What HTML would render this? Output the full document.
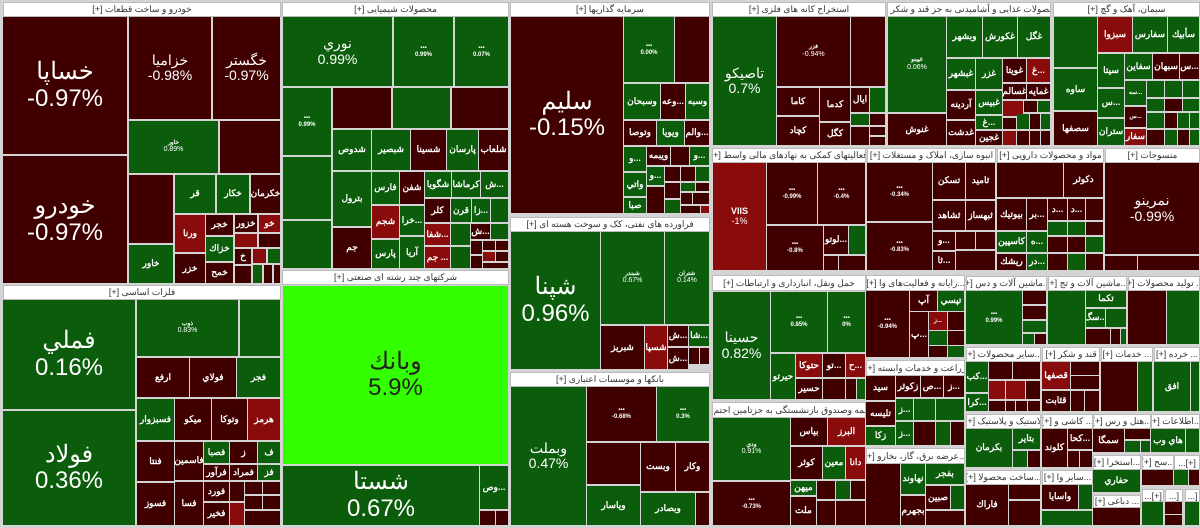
<!DOCTYPE html>
<html><head><meta charset="utf-8">
<style>
html,body{margin:0;padding:0;background:#d4d4d4;width:1200px;height:528px;overflow:hidden;position:relative;font-family:"Liberation Sans","Noto Sans CJK SC",sans-serif}
.c{position:absolute;display:flex;align-items:center;justify-content:center;text-align:center;color:#fff;overflow:hidden;line-height:1.1;box-sizing:border-box;white-space:nowrap}
.h{position:absolute;background:#fff;border:1px solid #bbb;box-sizing:border-box;color:#333;font-size:9px;display:flex;align-items:center;justify-content:center;white-space:nowrap;overflow:hidden;direction:rtl}
</style></head><body>
<script>
const C={D:'#410000',G:'#0b5c0b',R:'#8a0b0b',L:'#33ff00'};
const FS=[6,9,14,24];
const H=[
[3,2,281,17,'خودرو و ساخت قطعات [+]'],[3,285,281,300,'فلزات اساسی [+]'],[282,2,509,17,'محصولات شیمیایی [+]'],[282,270,509,285,'شرکتهای چند رشته ای صنعتی [+]'],
[510,2,710,17,'سرمایه گذاریها [+]'],[510,217,710,232,'فراورده های نفتی، کک و سوخت هسته ای [+]'],[510,372,710,387,'بانکها و موسسات اعتباری [+]'],
[712,2,886,17,'استخراج کانه های فلزی [+]'],[887,2,1051,17,'محصولات غذایی و آشامیدنی به جز قند و شکر [+]'],[1053,2,1200,17,'سیمان، آهک و گچ [+]'],
[712,148,866,163,'فعالیتهای کمکی به نهادهای مالی واسط [+]'],[867,148,996,163,'انبوه سازی، املاک و مستغلات [+]'],[997,148,1104,163,'مواد و محصولات دارویی [+]'],[1105,148,1200,163,'منسوجات [+]'],
[712,275,866,291,'حمل ونقل، انبارداری و ارتباطات [+]'],[712,402,866,418,'...بیمه وصندوق بازنشستگی به جزتامین اجتم [+]'],[866,275,965,291,'...رایانه و فعالیت‌های وا [+]'],[866,360,965,376,'زراعت و خدمات وابسته [+]'],[866,448,965,464,'...عرضه برق، گاز، بخارو [+]'],
[966,276,1047,291,'...ماشین آلات و دس [+]'],[1048,276,1127,291,'...ماشین آلات و تج [+]'],[1128,276,1200,291,'... تولید محصولات [+]'],
[966,347,1041,362,'...سایر محصولات [+]'],[1042,347,1100,362,'قند و شکر [+]'],[1101,347,1153,362,'... خدمات [+]'],[1154,347,1200,362,'... خرده [+]'],
[966,414,1041,429,'لاستیک و پلاستیک [+]'],[966,470,1041,485,'...ساخت محصولا [+]'],[1042,414,1093,429,'... کاشی و [+]'],[1042,470,1093,485,'...سایر وا [+]'],
[1093,414,1151,429,'...هتل و رس [+]'],[1151,414,1200,429,'...اطلاعات [+]'],[1093,455,1141,470,'...استخرا [+]'],[1093,495,1141,508,'... دباغی [+]'],
[1142,455,1174,470,'...سح [+]'],[1174,455,1200,470,'[+]...'],[1142,489,1164,502,'[+]...'],[1165,489,1183,502,'[...'],[1185,489,1200,502,'[...']
];
const K=[
[3,17,128,155,'D','خساپا',3,'-0.97%'],[3,156,128,284,'D','خودرو',3,'-0.97%'],[129,17,212,120,'D','خزامیا',2,'-0.98%'],[213,17,281,120,'D','خگستر',2,'-0.97%'],
[129,121,219,174,'G','خاور',0,'0.89%'],[220,121,281,174,'D','',0],[129,175,174,244,'D','',0],[175,175,216,214,'G','قر',1],[217,175,250,214,'G','خكار',1],[251,175,281,214,'D','خكرمان',1],
[129,245,174,284,'G','خاور',1],[175,215,206,253,'R','ورنا',1],[206,215,234,236,'D','خجر',1],[235,215,258,233,'D','خزور',1],[259,215,281,233,'R','خو',1],
[235,234,258,248,'R','',0],[259,234,281,248,'D','',0],[206,237,234,262,'G','خزاك',1],[235,249,252,265,'D','خ',1],[253,249,267,264,'R','',0],[268,249,281,264,'G','',0],
[175,254,206,284,'D','خزر',1],[206,263,234,284,'D','خمح',1],[235,266,252,284,'D','',0],[253,265,263,284,'G','',0],[264,265,273,284,'D','',0],[274,265,281,284,'D','',0],
[3,300,136,410,'G','فملي',3,'0.16%'],[3,411,136,526,'G','فولاد',3,'0.36%'],[137,300,239,357,'G','ذوب',0,'0.83%'],[240,300,281,357,'G','',0],
[137,358,190,398,'D','ارفع',1],[190,358,237,398,'D','فولاي',1],[237,358,281,398,'G','فجر',1],
[137,399,175,441,'G','فسبزوار',1],[175,399,212,441,'D','میکو',1],[212,399,248,441,'D','وتوكا',1],[248,399,281,441,'R','هرمز',1],
[137,442,175,482,'D','فنتا',1],[137,483,175,526,'D','فسوز',1],[175,442,204,481,'D','فاسمین',1],[175,482,204,526,'D','فسا',1],
[204,442,230,464,'G','فصبا',1],[230,442,258,464,'D','ز',1],[258,442,281,464,'G','ف',1],[204,465,230,481,'D','فرآور',1],[230,465,258,481,'D','فمراد',1],[258,465,281,481,'G','فز',1],
[204,482,230,502,'D','فورد',1],[204,503,230,526,'D','فخیر',1],[230,482,245,502,'D','',0],[245,482,263,495,'D','',0],[263,482,281,495,'D','',0],[230,503,245,526,'R','',0],[245,496,263,510,'D','',0],[263,496,281,510,'D','',0],[245,511,281,526,'D','',0],
[283,17,393,87,'G','نوري',2,'0.99%'],[394,17,454,87,'G','',0,'0.99%'],[455,17,509,87,'G','',0,'0.07%'],
[283,88,332,156,'G','',0,'0.99%'],[333,88,392,129,'D','',0],[393,88,451,129,'G','',0],[452,88,509,129,'D','',0],
[283,157,332,220,'G','',0],[283,221,332,269,'G','',0],
[333,130,372,171,'G','شدوص',1],[372,130,411,171,'G','شبصير',1],[411,130,447,171,'D','شسينا',1],[447,130,479,171,'G','پارسان',1],[479,130,509,171,'D','شلعاب',1],
[333,172,372,227,'G','بترول',1],[333,228,372,269,'D','جم',1],
[372,172,400,205,'G','فارس',1],[400,172,425,205,'D','شفن',1],[425,172,452,198,'G','شگويا',1],[452,172,481,198,'G','كرماشا',1],[481,172,509,198,'G','ش...',1],
[372,206,400,239,'R','شجم',1],[400,206,425,236,'G','خرا...',1],[372,240,400,269,'G','پارس',1],[400,237,425,269,'G','آريا',1],
[425,199,451,223,'D','كلر',1],[451,199,472,223,'G','قرن',1],[472,199,491,223,'G','زا...',1],[491,199,509,223,'G','',0],
[425,224,451,246,'R','شفا...',1],[425,247,451,269,'R','جم ...',1],
[451,224,471,246,'G','',0],[471,224,491,240,'D','ش...',1],[491,224,509,240,'G','',0],[451,247,471,269,'G','',0],[471,241,483,255,'D','',0],[483,241,496,251,'D','',0],[496,241,509,251,'D','',0],[471,256,483,269,'D','',0],[483,252,496,262,'R','',0],[496,252,509,262,'D','',0],[483,263,509,269,'D','',0],
[283,286,509,465,'L','وبانك',3,'5.9%'],[283,466,480,526,'G','شستا',3,'0.67%'],[480,466,509,510,'G','وص...',1],[480,511,496,526,'D','',0],[496,511,509,526,'D','',0],
[511,17,624,214,'D','سليم',3,'-0.15%'],[624,17,675,83,'G','',0,'0.00%'],[675,17,710,83,'D','',0],
[624,84,661,120,'G','وسبحان',1],[661,84,686,120,'D','وعه...',1],[686,84,710,120,'G','وسبه',1],
[624,121,657,146,'D','وتوصا',1],[657,121,685,146,'G','ويويا',1],[685,121,710,146,'D','والم...',1],
[624,147,647,172,'G','و...',1],[647,147,671,166,'D','ويبمه',1],[671,147,690,166,'D','',0],[690,147,710,166,'G','و...',1],
[624,173,647,197,'G','واتي',1],[624,198,647,214,'G','صبا',1],
[647,167,665,186,'G','و...',1],[665,167,681,182,'D','',0],[681,167,696,182,'D','',0],[696,167,710,182,'G','',0],[647,187,665,214,'D','',0],[665,183,681,199,'D','',0],[681,183,696,192,'G','',0],[696,183,710,192,'D','',0],[665,200,681,214,'G','',0],[681,193,693,205,'D','',0],[693,193,710,205,'D','',0],[681,206,701,214,'D','',0],[701,206,710,214,'R','',0],
[511,232,601,370,'G','شپنا',3,'0.96%'],[601,232,665,325,'G','شبندر',0,'0.67%'],[665,232,710,325,'G','شتران',0,'0.14%'],
[601,326,645,370,'D','شبريز',1],[645,326,668,370,'R','شسپا',1],[668,326,689,347,'D','ش...',1],[689,326,710,347,'G','شا...',1],[668,348,689,370,'D','ش...',1],[689,348,700,365,'D','',0],[700,348,710,365,'D','',0],
[511,387,587,526,'G','وبملت',2,'0.47%'],[587,387,657,442,'D','',0,'-0.68%'],[657,387,710,442,'G','',0,'0.3%'],
[587,443,641,485,'D','',0],[641,443,676,492,'D','وبست',1],[676,443,710,492,'D','وكار',1],[587,486,641,526,'G','وياسار',1],[641,493,696,526,'G','وبصادر',1],[696,493,710,526,'D','',0],
[713,17,777,146,'G','تاصيكو',2,'0.7%'],[777,17,851,87,'D','فزر',0,'-0.94%'],[851,17,886,87,'D','',0],
[777,88,820,116,'D','كاما',1],[820,88,851,122,'D','كدما',1],[777,117,820,146,'D','كچاد',1],[820,123,851,146,'D','كگل',1],
[851,88,870,113,'D','ايال',1],[870,88,886,113,'G','',0],[851,114,870,126,'G','',0],[870,114,886,126,'D','',0],[851,127,870,146,'D','',0],[870,127,886,136,'D','',0],[870,137,886,146,'D','',0],
[888,17,947,113,'G','غپينو',0,'0.06%'],[888,114,947,146,'D','غنوش',1],
[947,17,983,58,'G','وبشهر',1],[983,17,1018,58,'G','غكورش',1],[1018,17,1051,58,'G','غگل',1],
[947,59,976,90,'G','غبشهر',1],[976,59,1003,90,'G','غزر',1],[1003,59,1027,83,'D','غويتا',1],[1027,59,1051,83,'R','غ...',1],
[947,91,976,120,'D','آردينه',1],[947,121,976,146,'D','غدشت',1],[976,91,1003,115,'G','غبيس',1],[976,116,1003,130,'G','غ...',1],[976,131,1003,146,'D','غجين',1],
[1003,84,1027,100,'D','غسالم',1],[1027,84,1051,100,'D','غمايه',1],[1003,101,1024,117,'R','',0],[1024,101,1038,113,'D','',0],[1038,101,1051,113,'G','',0],
[1003,118,1017,130,'D','',0],[1017,114,1030,130,'G','',0],[1030,114,1041,130,'D','',0],[1041,114,1051,130,'G','',0],[1003,131,1017,146,'R','',0],[1017,131,1030,146,'D','',0],[1030,131,1041,146,'D','',0],[1041,131,1051,146,'D','',0],
[1054,17,1098,68,'G','',0],[1054,69,1098,111,'G','ساوه',1],[1054,112,1098,146,'D','سصفها',1],
[1098,17,1133,53,'R','سبزوا',1],[1133,17,1168,53,'G','سفارس',1],[1168,17,1200,53,'G','سأبيك',1],
[1098,54,1125,88,'G','سيتا',1],[1098,89,1125,118,'G','س...',1],[1098,119,1125,146,'G','ستران',1],
[1125,54,1153,80,'G','سفاين',1],[1153,54,1180,80,'D','سبهان',1],[1180,54,1200,80,'D','س...',1],
[1125,81,1147,106,'G','سه...',0],[1125,107,1147,128,'D','س...',0],[1125,129,1147,146,'R','سفار',1],
[1147,81,1165,98,'G','',0],[1165,81,1183,98,'G','',0],[1183,81,1200,98,'G','',0],[1147,99,1165,112,'G','',0],[1165,99,1183,112,'D','',0],[1183,99,1200,112,'G','',0],
[1147,113,1165,129,'G','',0],[1165,113,1178,129,'D','',0],[1178,113,1190,129,'G','',0],[1190,113,1200,129,'G','',0],[1147,130,1165,146,'D','',0],[1165,130,1178,146,'G','',0],[1178,130,1190,146,'D','',0],[1190,130,1200,146,'G','',0],
[713,163,767,271,'R','VIIS',1,'-1%'],[767,163,818,225,'D','',0,'-0.99%'],[818,163,866,225,'D','',0,'-0.4%'],[767,226,824,271,'D','',0,'-0.8%'],[824,226,849,255,'D','لوتو...',1],[849,226,866,255,'G','',0],[824,256,839,271,'D','',0],[839,256,866,271,'D','',0],
[867,163,933,222,'D','',0,'-0.34%'],[867,223,933,271,'D','',0,'-0.83%'],[933,163,966,200,'D','تسكن',1],[966,163,996,200,'D','ثاميد',1],[933,201,966,231,'D','ثشاهد',1],[966,201,996,231,'D','ثبهساز',1],[933,232,956,251,'D','و...',1],[933,252,956,271,'D','ثا...',1],[956,232,976,250,'D','',0],[976,232,996,250,'D','',0],[956,251,996,271,'D','',0],
[997,163,1064,198,'D','',0],[1064,163,1104,198,'D','دكوثر',1],[997,199,1027,231,'D','بيوتيك',1],[1027,199,1048,231,'D','بر...',1],[1048,199,1068,221,'D','د...',1],[1068,199,1086,221,'D','د...',1],[1086,199,1104,221,'D','',0],
[997,232,1027,253,'G','كاسپين',1],[997,254,1027,271,'D','ريشك',1],[1027,232,1048,253,'G','ه...',1],[1027,254,1048,271,'G','در...',1],
[1048,222,1068,236,'G','',0],[1068,222,1086,236,'G','',0],[1086,222,1104,236,'D','',0],[1048,237,1068,253,'D','',0],[1068,237,1086,253,'D','',0],[1086,237,1104,253,'G','',0],[1048,254,1068,271,'D','',0],[1068,254,1086,271,'G','',0],[1086,254,1104,271,'D','',0],
[1105,163,1200,255,'D','نمرينو',2,'-0.99%'],[1105,256,1138,271,'D','',0],[1138,256,1200,271,'D','',0],
[713,292,771,400,'G','حسينا',2,'0.82%'],[771,292,828,353,'G','',0,'0.85%'],[828,292,866,353,'G','',0,'0%'],[771,354,796,400,'G','حيرتو',1],[796,354,823,378,'R','حتوكا',1],[823,354,846,378,'D','تو...',1],[846,354,866,378,'R','ح...',1],[796,379,823,400,'D','حسير',1],[823,379,846,400,'D','',0],[846,379,857,400,'D','',0],[857,379,866,400,'G','',0],
[713,418,791,481,'G','ودي',0,'0.91%'],[713,482,791,526,'D','',0,'-0.73%'],[791,418,828,446,'D','بياس',1],[828,418,866,446,'R','البرز',1],[791,447,823,480,'D','كوثر',1],[823,447,846,480,'G','معين',1],[846,447,866,480,'R','دانا',1],
[791,481,817,496,'G','ميهن',1],[791,497,817,526,'D','ملت',1],[817,481,836,500,'D','',0],[836,481,851,500,'G','',0],[851,481,866,500,'D','',0],[817,501,836,526,'D','',0],[836,501,866,526,'D','',0],
[866,291,910,358,'D','',0,'-0.94%'],[910,291,938,312,'D','آپ',1],[938,291,965,312,'G','تپسي',1],[910,312,929,358,'D','پ...',1],[929,312,948,331,'R','ز...',0],[948,312,965,331,'D','',0],[929,331,948,346,'G','',0],[948,331,965,346,'D','',0],[929,346,948,358,'D','',0],[948,346,965,358,'G','',0],
[866,376,896,401,'D','سيد',1],[896,376,921,398,'D','زكوثر',1],[921,376,944,398,'D','ص...',1],[944,376,965,398,'D','ز...',1],[866,402,896,426,'D','تليسه',1],[866,427,896,446,'G','زكا',1],
[896,399,914,421,'G','ز...',1],[914,399,936,421,'G','',0],[936,399,965,421,'G','',0],[896,422,914,446,'G','ز...',1],[914,422,936,446,'D','',0],[936,422,951,446,'G','',0],[951,422,965,446,'D','',0],
[866,464,901,526,'D','',0],[901,464,926,495,'G','نهاوند',1],[926,464,965,485,'G','بفجر',1],[926,486,951,510,'D','صبين',1],[951,486,965,510,'G','',0],[901,496,926,526,'D','بجهرم',1],[926,511,965,526,'D','',0],
[966,291,1023,345,'G','',0,'0.99%'],[1023,291,1047,305,'D','',0],[1023,306,1047,320,'D','',0],[1023,321,1047,333,'G','',0],[1023,334,1035,345,'G','',0],[1035,334,1047,345,'D','',0],
[1048,291,1086,345,'G','',0],[1086,291,1127,308,'G','تكما',1],[1086,309,1106,328,'G','سگ...',1],[1106,309,1127,328,'G','',0],[1086,329,1111,345,'D','',0],[1111,329,1121,345,'D','',0],[1121,329,1127,345,'G','',0],
[1128,291,1167,345,'D','',0],[1167,291,1200,345,'G','',0],
[966,362,989,393,'G','كب...',1],[966,394,989,412,'G','كرا...',1],[989,362,1013,380,'D','',0],[1013,362,1041,380,'D','',0],[989,381,1006,400,'R','',0],[1006,381,1026,400,'R','',0],[1026,381,1041,400,'D','',0],[989,401,1006,412,'D','',0],[1006,401,1016,412,'D','',0],[1016,401,1028,412,'D','',0],[1028,401,1041,412,'D','',0],
[1042,362,1071,390,'R','قصفها',1],[1071,362,1100,376,'D','',0],[1071,376,1100,390,'D','',0],[1042,391,1071,412,'D','قثابت',1],[1071,391,1085,412,'D','',0],[1085,391,1100,412,'D','',0],
[1101,362,1138,412,'D','',0],[1138,362,1153,412,'G','',0],[1154,362,1191,412,'G','افق',1],[1191,362,1200,412,'G','',0],
[966,429,1013,468,'G','بكرمان',1],[1013,429,1041,450,'G','بتاير',1],[1013,451,1028,468,'G','',0],[1028,451,1041,468,'D','',0],
[966,485,1009,526,'D','فاراك',1],[1009,485,1041,500,'D','',0],[1009,501,1041,526,'D','',0],
[1042,429,1068,468,'D','كلوند',1],[1068,429,1093,450,'D','كحا...',1],[1068,451,1080,468,'D','',0],[1080,451,1093,468,'D','',0],
[1042,485,1079,510,'D','واسايا',1],[1079,485,1093,510,'G','',0],[1042,511,1093,526,'G','',0],
[1093,429,1125,453,'D','سمگا',1],[1125,429,1151,440,'D','',0],[1125,441,1141,453,'G','',0],[1141,441,1151,453,'G','',0],
[1151,429,1186,453,'G','هاي وب',1],[1186,429,1200,453,'G','',0],
[1093,470,1141,493,'G','حفاري',1],[1093,508,1141,526,'D','',0],
[1142,470,1174,486,'D','',0],[1174,470,1189,486,'G','',0],[1189,470,1200,486,'D','',0],
[1142,502,1164,526,'G','',0],[1165,502,1183,515,'D','',0],[1165,515,1183,526,'D','',0],[1185,502,1200,526,'G','',0]
];
let h='';
for(const k of H){h+=`<div class="h" style="left:${k[0]}px;top:${k[1]}px;width:${k[2]-k[0]}px;height:${k[3]-k[1]}px">${k[4]}</div>`;}
for(const k of K){
 const [x1,y1,x2,y2,c,l,s,p]=k;
 const fs=FS[s];
 const bold=s<=1?'font-weight:bold;':'';
 const fc=c==='L'?'#222':'#fff';
 let t=l;if(p)t+='<br><span style="font-size:'+(s===0?7:fs)+'px;font-weight:normal">'+p+'</span>';
 if(s===0&&!l&&!p)t='';
 if(s===0&&!l&&p)t='<span style="font-size:6px">▪▪▪</span><br><span style="font-size:6px">'+p+'</span>';
 h+=`<div class="c" style="left:${x1}px;top:${y1}px;width:${x2-x1-1}px;height:${y2-y1-1}px;background:${C[c]};color:${fc};font-size:${fs}px;${bold}">${t?'<div>'+t+'</div>':''}</div>`;
}
document.body.insertAdjacentHTML('beforeend',h);
</script>
</body></html>
